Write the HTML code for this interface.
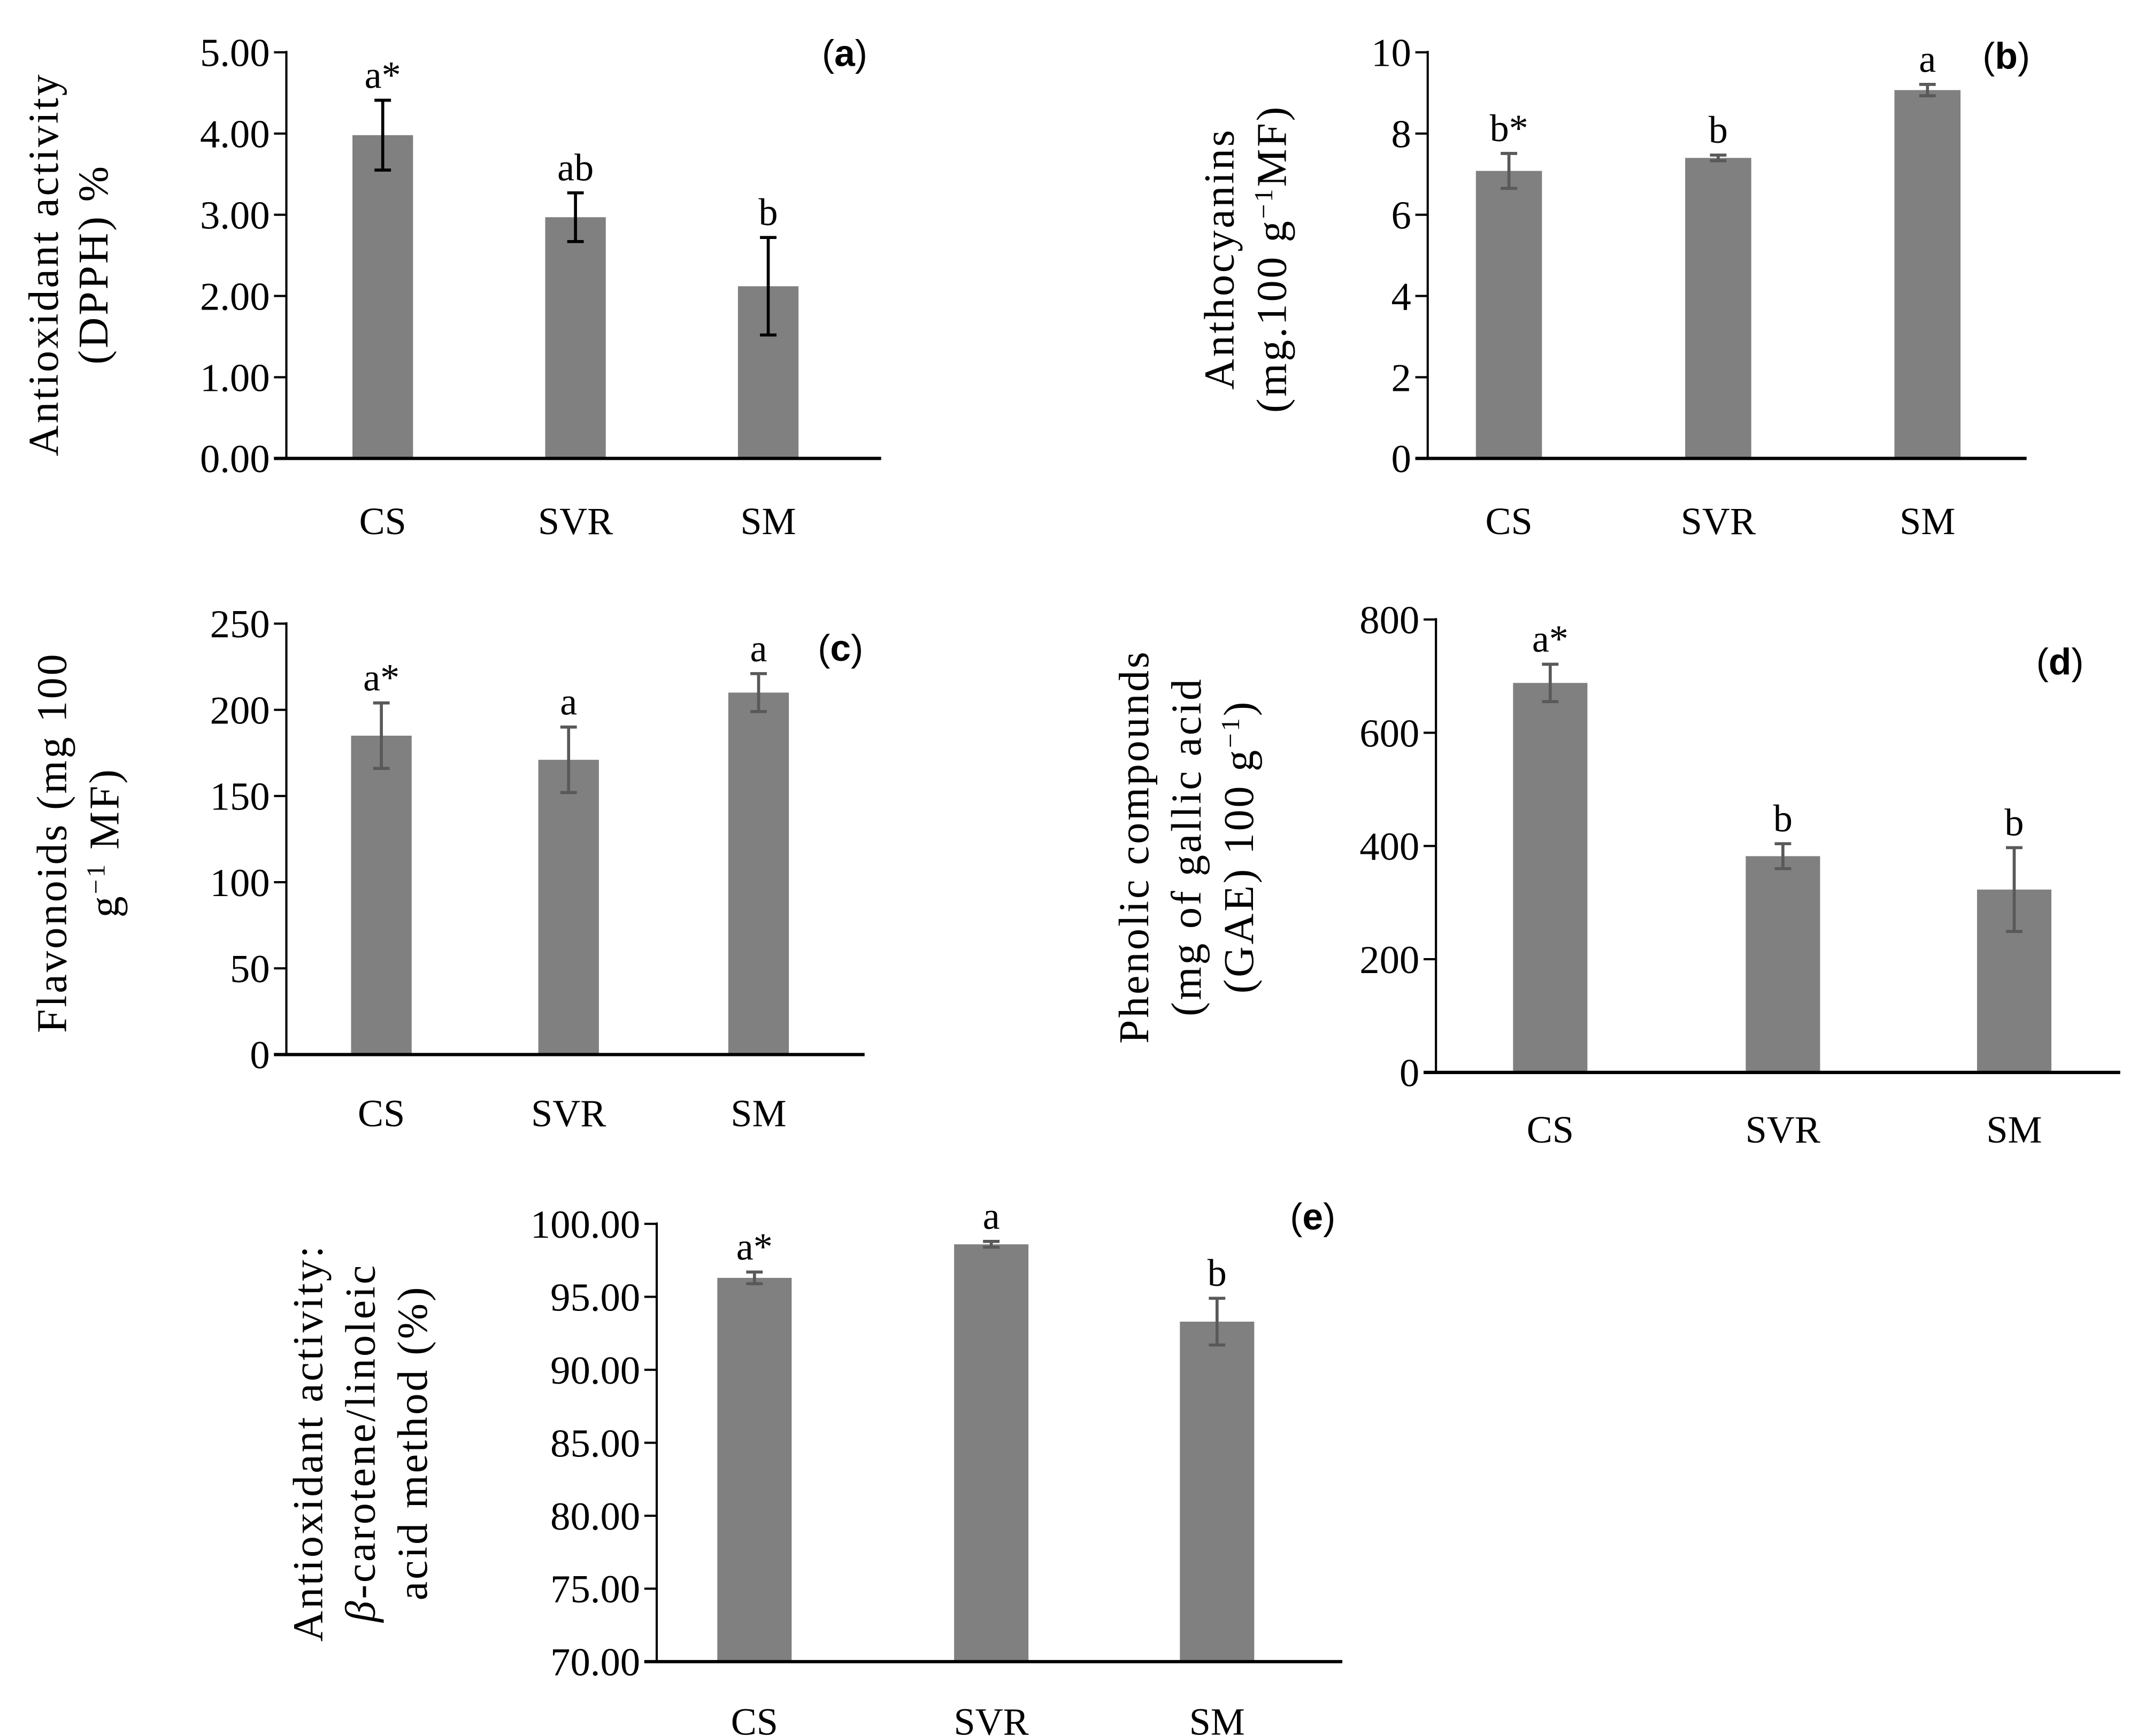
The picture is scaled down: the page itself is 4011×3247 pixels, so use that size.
<!DOCTYPE html>
<html><head><meta charset="utf-8"><style>
html,body{margin:0;padding:0;background:#fff;}
svg{display:block;}
text{font-family:"Liberation Serif",serif;fill:#000;}
.tick{font-size:29px;}
.cat{font-size:28px;}
.title{font-size:31px;letter-spacing:1.5px;}
.let{font-size:28px;}
.pl{font-family:"Liberation Sans",sans-serif;font-size:27px;}
</style></head><body>
<svg id="fig" width="4011" height="3247" viewBox="0 0 1558 1261" preserveAspectRatio="none" xmlns="http://www.w3.org/2000/svg"></svg>
<script>
const categories = ["CS","SVR","SM"];
const valsA = [3.98, 2.97, 2.12];
const errA = [0.43, 0.30, 0.60];
const letA = ["a*","ab","b"];
const ticksA = ["0.00","1.00","2.00","3.00","4.00","5.00"];
const valsB = [7.08, 7.40, 9.07];
const errB = [0.43, 0.07, 0.14];
const letB = ["b*","b","a"];
const ticksB = ["0","2","4","6","8","10"];
const valsC = [185, 171, 210];
const errC = [19, 19, 11];
const letC = ["a*","a","a"];
const ticksC = ["0","50","100","150","200","250"];
const valsD = [688, 382, 323];
const errD = [33, 22, 74];
const letD = ["a*","b","b"];
const ticksD = ["0","200","400","600","800"];
const valsE = [96.3, 98.6, 93.3];
const errE = [0.4, 0.2, 1.6];
const letE = ["a*","a","b"];
const ticksE = ["70.00","75.00","80.00","85.00","90.00","95.00","100.00"];

const NS = "http://www.w3.org/2000/svg";
const svg = document.getElementById('fig');
function mk(tag, attrs, parent){const e=document.createElementNS(NS,tag);for(const k in attrs)e.setAttribute(k,attrs[k]);(parent||svg).appendChild(e);return e;}

function panel(cfg){
  const g = mk('g',{});
  
  
  const ymin=cfg.min, ymax=cfg.max;
  const y = v => cfg.bottom - (v-ymin)/(ymax-ymin)*(cfg.bottom-cfg.top);
  const n = cfg.ticks.length;
  cfg.ticks.forEach((t,i)=>{
    const v = ymin + i*(ymax-ymin)/(n-1);
    const ty = y(v);
    const tk = mk('line',{x1:cfg.ax-9,x2:cfg.ax,y1:ty,y2:ty,stroke:'#000','stroke-width':1.6},g);
    
    
    const tl = mk('text',{x:cfg.ax-12,y:ty+10,'text-anchor':'end',class:'tick'},g);
    
    
    tl.textContent=t;
  });
  const ya = mk('line',{x1:cfg.ax,x2:cfg.ax,y1:cfg.top-1,y2:cfg.bottom,stroke:'#000','stroke-width':1.6},g);
  
  
  categories.forEach((c,i)=>{
    const cx = cfg.cx[i], v=cfg.vals[i], e=cfg.err[i];
    const b = mk('rect',{x:cx-cfg.bw/2,y:y(v),width:cfg.bw,height:cfg.bottom-y(v),fill:'#808080'},g);
    
    
    const eg = mk('g',{stroke:cfg.ec,'stroke-width':2.2},g);
    
    
    mk('line',{x1:cx,x2:cx,y1:y(v+e),y2:y(v-e)},eg);
    mk('line',{x1:cx-6,x2:cx+6,y1:y(v+e),y2:y(v+e)},eg);
    mk('line',{x1:cx-6,x2:cx+6,y1:y(v-e),y2:y(v-e)},eg);
    const lt = mk('text',{x:cx,y:y(v+e)-9,'text-anchor':'middle',class:'let'},g);
    
    
    lt.textContent=cfg.lets[i];
    const cl = mk('text',{x:cx,y:cfg.catY,'text-anchor':'middle',class:'cat'},g);
    
    
    cl.textContent=c;
  });
  const xa = mk('line',{x1:cfg.ax-9,x2:cfg.xend,y1:cfg.bottom,y2:cfg.bottom,stroke:'#000','stroke-width':2.4},g);
  
  
  const pl = mk('text',{x:cfg.plx,y:cfg.ply,class:'pl'},g);
  
  
  pl.innerHTML='(<tspan font-weight="bold">'+cfg.id+'</tspan>)';
  cfg.title.forEach((t,i)=>{
    const tx = cfg.tx[i];
    const tt = mk('text',{x:tx,y:cfg.ty,'text-anchor':'middle',class:'title',transform:'rotate(-90 '+tx+' '+cfg.ty+')'},g);
    
    
    tt.innerHTML=t;
  });
}

panel({id:'a',min:0,max:5,top:38,bottom:333,ax:208,xend:640,cx:[278,418,558],bw:44,vals:valsA,err:errA,lets:letA,ticks:ticksA,ec:'#000',catY:388,plx:597,ply:48,
  title:['Antioxidant activity','(DPPH) %'],tx:[42,78],ty:192});
panel({id:'b',min:0,max:10,top:38,bottom:333,ax:1037,xend:1472,cx:[1096,1248,1400],bw:48,vals:valsB,err:errB,lets:letB,ticks:ticksB,ec:'#595959',catY:388,plx:1440,ply:50,
  title:['Anthocyanins','(mg.100 g<tspan font-size="19" dy="-10">−1</tspan><tspan dy="10">MF)</tspan>'],tx:[896,934],ty:188});
panel({id:'c',min:0,max:250,top:453,bottom:766,ax:208,xend:628,cx:[277,413,551],bw:44,vals:valsC,err:errC,lets:letC,ticks:ticksC,ec:'#595959',catY:818,plx:594,ply:480,
  title:['Flavonoids (mg 100','g<tspan font-size="19" dy="-10">−1</tspan><tspan dy="10"> MF)</tspan>'],tx:[48,86],ty:612});
panel({id:'d',min:0,max:800,top:450,bottom:779,ax:1043,xend:1540,cx:[1126,1295,1463],bw:54,vals:valsD,err:errD,lets:letD,ticks:ticksD,ec:'#595959',catY:830,plx:1479,ply:490,
  title:['Phenolic compounds','(mg of gallic acid','(GAE) 100 g<tspan font-size="19" dy="-10">−1</tspan><tspan dy="10">)</tspan>'],tx:[834,872,910],ty:615});
panel({id:'e',min:70,max:100,top:889,bottom:1207,ax:477,xend:975,cx:[548,720,884],bw:54,vals:valsE,err:errE,lets:letE,ticks:ticksE,ec:'#595959',catY:1260,plx:937,ply:893,
  title:['Antioxidant activity:','<tspan font-style="italic">β</tspan>-carotene/linoleic','acid method (%)'],tx:[234,272,310],ty:1048});
</script>
</body></html>
